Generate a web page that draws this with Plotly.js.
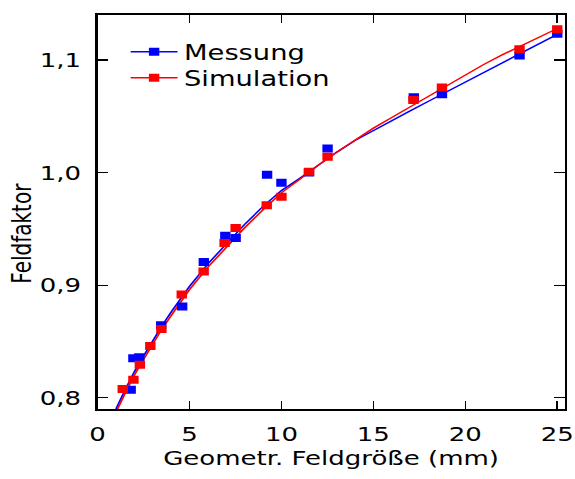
<!DOCTYPE html>
<html>
<head>
<meta charset="utf-8">
<script src="https://cdn.plot.ly/plotly-3.0.1.min.js"></script>
<style>
  html, body { margin: 0; padding: 0; background: #fff; }
  #wrap { width: 575px; height: 479px; overflow: hidden; }
  #chart { width: 442px; height: 479px; transform: scaleX(1.3009); transform-origin: 0 0; }
</style>
</head>
<body>
<div id="wrap"><div id="chart"></div></div>
<script>
// Measured data (Messung)
const messungX = [1.8, 1.95, 2.27, 3.46, 4.6, 5.78, 6.95, 7.51, 9.22, 10.0, 11.5, 12.51, 17.2, 18.73, 22.95, 25.0];
const messungY = [0.807, 0.835, 0.836, 0.8645, 0.881, 0.9205, 0.944, 0.942, 0.998, 0.991, 1.0, 1.0215, 1.067, 1.0695, 1.104, 1.1233];

// Simulated data (Simulation)
const simX = [1.37, 1.95, 2.3, 2.87, 3.47, 4.58, 5.77, 6.91, 7.51, 9.2, 10.0, 11.5, 12.51, 17.18, 18.73, 22.95, 25.0];
const simY = [0.8077, 0.816, 0.8294, 0.846, 0.861, 0.8917, 0.9122, 0.9375, 0.9508, 0.971, 0.9785, 1.0007, 1.0141, 1.0645, 1.0755, 1.1096, 1.1274];

// Fit curves
const fitX = [0.9, 1, 1.5, 2, 2.5, 3, 3.5, 4, 4.5, 5, 6, 7, 8, 9, 10, 11, 12, 13, 14, 15, 16, 17, 18, 19, 20, 21, 22, 23, 24, 25];
const fitMessungY = [0.787, 0.790, 0.807, 0.823, 0.837, 0.851, 0.864, 0.876, 0.888, 0.899, 0.919, 0.937, 0.954, 0.970, 0.984, 0.995, 1.0065, 1.018, 1.0285, 1.0375, 1.0462, 1.0548, 1.0634, 1.0720, 1.0806, 1.0892, 1.0977, 1.1061, 1.1144, 1.1228];
const fitSimY = [0.784, 0.787, 0.804, 0.820, 0.834, 0.848, 0.861, 0.873, 0.885, 0.896, 0.916, 0.934, 0.951, 0.967, 0.982, 0.994, 1.0065, 1.018, 1.029, 1.0395, 1.049, 1.0585, 1.068, 1.0775, 1.0868, 1.096, 1.1045, 1.1125, 1.1203, 1.128];

// Axis ticks
const xTickVals = [0, 5, 10, 15, 20, 25];
const xTickText = ['0', '5', '10', '15', '20', '25'];
const yTickVals = [0.8, 0.9, 1.0, 1.1];
const yTickText = ['0,8', '0,9', '1,0', '1,1'];

const seriesNames = ['Messung', 'Simulation'];
const BLUE = '#0000ff', RED = '#ff0000';
const FONT = 'DejaVu Sans, Bitstream Vera Sans, sans-serif';

const traces = [
  { x: fitX, y: fitMessungY, mode: 'lines', line: { color: BLUE, width: 1.4 }, showlegend: false, hoverinfo: 'skip' },
  { x: fitX, y: fitSimY, mode: 'lines', line: { color: RED, width: 1.4 }, showlegend: false, hoverinfo: 'skip' },
  { x: messungX, y: messungY, mode: 'markers', marker: { symbol: 'square', size: 8, color: BLUE }, showlegend: false },
  { x: simX, y: simY, mode: 'markers', marker: { symbol: 'square', size: 8, color: RED }, showlegend: false },
  // legend entries (line + marker)
  { x: [null], y: [null], name: seriesNames[0], legend: 'legend', mode: 'lines+markers', line: { color: BLUE, width: 1.4 }, marker: { symbol: 'square', size: 8, color: BLUE } },
  { x: [null], y: [null], name: seriesNames[1], legend: 'legend2', mode: 'lines+markers', line: { color: RED, width: 1.4 }, marker: { symbol: 'square', size: 8, color: RED } }
];

const axisCommon = {
  showgrid: false, zeroline: false,
  showline: true, linecolor: '#000', linewidth: 1.6, mirror: 'ticks',
  ticks: 'inside', ticklen: 8, tickwidth: 1.2, tickcolor: '#000',
  tickfont: { family: FONT, size: 20, color: '#000' }
};

const legendCommon = {
  xanchor: 'left', yanchor: 'middle',
  bgcolor: 'rgba(0,0,0,0)', borderwidth: 0,
  font: { family: FONT, size: 21, color: '#000' },
  itemwidth: 36
};

const layout = {
  width: 442, height: 479, autosize: false,
  margin: { l: 75, r: 8, t: 15, b: 70 },
  paper_bgcolor: '#fff', plot_bgcolor: '#fff',
  font: { family: FONT, color: '#000' },
  showlegend: true,
  legend: Object.assign({}, legendCommon, { x: 0.057, y: 0.906 }),
  legend2: Object.assign({}, legendCommon, { x: 0.057, y: 0.840 }),
  xaxis: Object.assign({}, axisCommon, {
    range: [0, 25.4], tickvals: xTickVals, ticktext: xTickText,
    ticklabelstandoff: 6,
    title: { text: 'Geometr. Feldgröße (mm)', font: { family: FONT, size: 20, color: '#000' }, standoff: 6 }
  }),
  yaxis: Object.assign({}, axisCommon, {
    range: [0.79, 1.14], tickvals: yTickVals, ticktext: yTickText,
    ticklabelstandoff: 7
  }),
  annotations: [{
    text: 'Feldfaktor', textangle: -90,
    xref: 'paper', yref: 'paper', x: -0.162, y: 0.447,
    xanchor: 'center', yanchor: 'middle', showarrow: false,
    font: { family: FONT, size: 20, color: '#000' }
  }]
};

Plotly.newPlot('chart', traces, layout, { displayModeBar: false, staticPlot: true });
</script>
</body>
</html>
